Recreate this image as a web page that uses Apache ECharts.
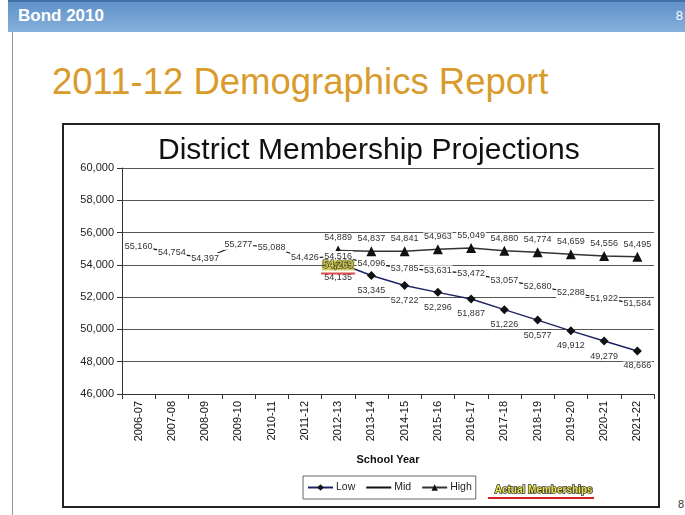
<!DOCTYPE html>
<html>
<head>
<meta charset="utf-8">
<script src="https://cdn.jsdelivr.net/npm/echarts@6/dist/echarts.min.js"></script>
<style>
  html, body { margin: 0; padding: 0; background: #fff; }
  body { width: 685px; height: 515px; position: relative; overflow: hidden; font-family: "Liberation Sans", Arial, sans-serif; }
  #bar { position: absolute; left: 8px; top: 0; width: 677px; height: 32px;
         background: linear-gradient(#5f92c8, #86b0dc); border-top: 2px solid #3f6fa3; box-sizing: border-box; }
  #bar .l { position: absolute; left: 10px; top: 4px; color: #fff; font-weight: bold; font-size: 17px; }
  #bar .r { position: absolute; right: 2px; top: 6px; color: #fff; font-size: 13px; }
  #edge { position: absolute; left: 12px; top: 32px; width: 1px; height: 483px; background: #999; }
  #title { position: absolute; left: 52px; top: 61px; color: #d99b2b; font-size: 36.5px; white-space: nowrap; }
  #box { position: absolute; left: 62px; top: 123px; width: 598px; height: 385px; border: 2px solid #222; box-sizing: border-box; }
  #myChart { width: 100%; height: 100%; }
  #pg { position: absolute; left: 678px; top: 498px; font-size: 11px; color: #333; }
</style>
</head>
<body>
<div id="bar"><span class="l">Bond 2010</span><span class="r">8</span></div>
<div id="edge"></div>
<div id="title">2011-12 Demographics Report</div>
<div id="box"><div id="myChart"></div></div>
<div id="pg">8</div>
<script>
// 数据
var years = ['2006-07','2007-08','2008-09','2009-10','2010-11','2011-12','2012-13','2013-14',
             '2014-15','2015-16','2016-17','2017-18','2018-19','2019-20','2020-21','2021-22'];
var midData = [55160,54754,54397,55277,55088,54426,54516,54096,53785,53631,53472,53057,52680,52288,51922,51584];
var lowData = [null,null,null,null,null,null,54135,53345,52722,52296,51887,51226,50577,49912,49279,48666];
var highData = [null,null,null,null,null,null,54889,54837,54841,54963,55049,54880,54774,54659,54556,54495];
var actualData = [null,null,null,null,null,null,54269,null,null,null,null,null,null,null,null,null];

var fmt = function (v) { return Number(v).toLocaleString('en-US'); };

var myChart = echarts.init(document.getElementById('myChart'));
myChart.setOption({
    animation: false,
    textStyle: { fontFamily: 'Liberation Sans, Arial, sans-serif' },
    title: {
        text: 'District Membership Projections',
        left: 89,
        top: 6,
        textStyle: { fontSize: 30, fontWeight: 'normal', color: '#111' }
    },
    grid: { left: 58, right: 4, top: 43, bottom: 112 },
    legend: {
        left: 239, top: 351,
        itemWidth: 25, itemHeight: 8, itemGap: 10,
        padding: [6, 4],
        borderColor: '#666', borderWidth: 1,
        textStyle: { fontSize: 10.5, color: '#222', padding: [0, 0, 0, -2] },
        data: [
            { name: 'Low' },
            { name: 'Mid', itemStyle: { color: 'rgba(0,0,0,0)', borderWidth: 0 } },
            { name: 'High' }
        ]
    },
    xAxis: {
        type: 'category',
        data: years,
        boundaryGap: true,
        name: 'School Year',
        nameLocation: 'middle',
        nameGap: 60,
        nameTextStyle: { fontSize: 11, fontWeight: 'bold', color: '#111' },
        axisLine: { lineStyle: { color: '#333', width: 1 } },
        axisTick: { show: true, length: 5, lineStyle: { color: '#333' } },
        axisLabel: { rotate: 90, fontSize: 11, color: '#111', margin: 7, interval: 0 }
    },
    yAxis: {
        type: 'value',
        min: 46000, max: 60000, interval: 2000,
        axisLine: { show: true, lineStyle: { color: '#333', width: 1 } },
        axisTick: { show: true, length: 5, lineStyle: { color: '#333' } },
        axisLabel: { fontSize: 11, color: '#222', margin: 8, formatter: fmt },
        splitLine: { lineStyle: { color: '#555', width: 1 } }
    },
    series: [
        {
            name: 'Low', type: 'line', data: lowData,
            symbol: 'diamond', symbolSize: 9,
            itemStyle: { color: '#111' },
            lineStyle: { color: '#1d2466', width: 1.5 },
            label: {
                show: true, position: 'bottom', distance: 6,
                fontSize: 9, color: '#333', backgroundColor: '#fff', padding: [0, 1],
                formatter: function (p) { return fmt(p.value); }
            }
        },
        {
            name: 'Mid', type: 'line', data: midData,
            symbol: 'circle', symbolSize: 0.1,
            itemStyle: { color: '#111' },
            lineStyle: { color: '#111', width: 1.2 },
            label: {
                show: true, position: 'inside',
                fontSize: 9, color: '#333', backgroundColor: '#fff', padding: [1, 1],
                formatter: function (p) { return fmt(p.value); }
            }
        },
        {
            name: 'High', type: 'line', data: highData,
            symbol: 'triangle', symbolSize: 10,
            itemStyle: { color: '#111' },
            lineStyle: { color: '#333', width: 1.5 },
            label: {
                show: true, position: 'top', distance: 3,
                fontSize: 9, color: '#333', backgroundColor: '#fff', padding: [0, 1],
                formatter: function (p) { return fmt(p.value); }
            }
        },
        {
            name: 'Actual', type: 'scatter', data: actualData,
            symbolSize: 0.1, itemStyle: { color: 'rgba(0,0,0,0)' },
            z: 10,
            label: {
                show: true, position: 'inside', offset: [0, 8],
                formatter: function (p) { return '{a|' + fmt(p.value[1] != null ? p.value[1] : p.value) + '}\n{u|}'; },
                rich: {
                    a: { fontSize: 10, fontWeight: 'bold', color: '#eeea55', textBorderColor: '#333',
                         textBorderWidth: 1.5, backgroundColor: '#c8c03a', padding: [0, 1] },
                    u: { width: 34, height: 2, lineHeight: 6, backgroundColor: '#d42020' }
                }
            }
        }
    ],
    graphic: [
        {
            type: 'text', left: 430, top: 359,
            style: { text: 'Actual Memberships', fontSize: 10, fontWeight: 'bold',
                     fill: '#e8e44c', stroke: '#333', lineWidth: 1.5,
                     fontFamily: 'Liberation Sans, Arial, sans-serif' }
        },
        {
            type: 'rect', left: 424, top: 372,
            shape: { width: 106, height: 2 },
            style: { fill: '#d42020' }
        }
    ]
});
</script>
</body>
</html>
